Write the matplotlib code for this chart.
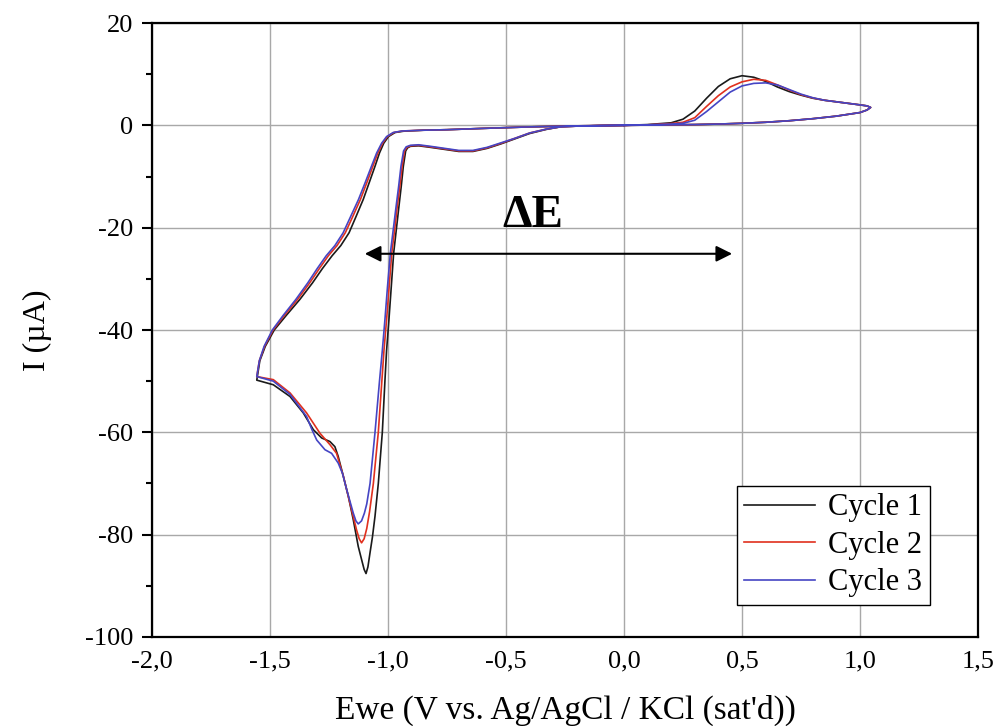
import matplotlib
matplotlib.use("Agg")
import matplotlib.pyplot as plt
from matplotlib.ticker import MultipleLocator

plt.rcParams['font.family'] = ['Liberation Serif', 'DejaVu Serif']
plt.rcParams['axes.unicode_minus'] = False

# cycle 1 (black): anodic peak -> vertex 1.045 V -> cathodic sweep -> vertex -1.556 V -> back to 0
c1_v = [0.00, 0.10, 0.20, 0.25, 0.30, 0.35, 0.40, 0.45, 0.50, 0.55, 0.60, 0.65, 0.70, 0.75, 0.80, 0.85, 0.90, 0.95, 1.00, 1.03, 1.045,
        1.03, 1.00, 0.90, 0.80, 0.70, 0.60, 0.50, 0.40, 0.30, 0.20, 0.10, 0.00,
        -0.10, -0.20, -0.27, -0.33, -0.40, -0.46, -0.52, -0.58, -0.64, -0.70, -0.76, -0.82, -0.87, -0.905, -0.917,
        -0.925, -0.935, -0.944, -0.954, -0.965, -0.976, -0.986, -0.996, -1.006, -1.013, -1.024, -1.041, -1.055, -1.066, -1.076, -1.085, -1.093,
        -1.101, -1.110, -1.126, -1.147, -1.168, -1.189, -1.211, -1.225, -1.246, -1.281, -1.316, -1.359, -1.415, -1.486, -1.556,
        -1.543, -1.520, -1.482, -1.432, -1.373, -1.320, -1.278, -1.237, -1.200, -1.165, -1.137, -1.105, -1.078, -1.055, -1.036, -1.018, -0.998, -0.970, -0.935,
        -0.85, -0.75, -0.60, -0.50, -0.40, -0.30, -0.20, -0.10, 0.00]
c1_i = [0.0, 0.15, 0.5, 1.2, 2.8, 5.3, 7.6, 9.1, 9.7, 9.4, 8.6, 7.5, 6.6, 5.9, 5.3, 4.9, 4.6, 4.3, 4.0, 3.8, 3.5,
        3.0, 2.5, 1.8, 1.3, 0.9, 0.6, 0.4, 0.25, 0.15, 0.1, 0.05, 0.0,
        -0.05, -0.15, -0.3, -0.8, -1.6, -2.6, -3.6, -4.5, -5.1, -5.1, -4.7, -4.3, -4.0, -4.1, -4.4,
        -5.0, -8.0, -12.0, -16.0, -20.5, -25.0, -31.5, -38.0, -44.0, -50.0, -60.0, -70.0, -76.4, -80.5, -83.5, -86.3, -87.6,
        -86.8, -85.2, -82.3, -77.1, -72.5, -68.6, -64.7, -62.8, -61.8, -61.1, -59.5, -56.2, -53.0, -50.7, -49.8,
        -46.0, -43.2, -40.0, -37.2, -34.0, -30.8, -28.0, -25.5, -23.5, -21.0, -18.0, -14.5, -11.0, -8.0, -5.4, -3.5, -2.2, -1.4, -1.15,
        -0.95, -0.85, -0.6, -0.45, -0.3, -0.2, -0.1, -0.05, 0.0]

# cycle 2 (red)
c2_v = [0.00, 0.10, 0.20, 0.25, 0.30, 0.35, 0.40, 0.45, 0.50, 0.55, 0.60, 0.65, 0.70, 0.75, 0.80, 0.85, 0.90, 0.95, 1.00, 1.03, 1.045,
        1.03, 1.00, 0.90, 0.80, 0.70, 0.60, 0.50, 0.40, 0.30, 0.20, 0.10, 0.00,
        -0.10, -0.20, -0.27, -0.33, -0.40, -0.46, -0.52, -0.58, -0.64, -0.70, -0.76, -0.82, -0.87, -0.905, -0.920,
        -0.930, -0.940, -0.950, -0.961, -0.972, -0.984, -0.995, -1.006, -1.017, -1.026, -1.041, -1.062, -1.078, -1.090, -1.101, -1.112,
        -1.122, -1.133, -1.147, -1.161, -1.189, -1.218, -1.246, -1.288, -1.345, -1.415, -1.486, -1.556,
        -1.545, -1.523, -1.487, -1.440, -1.383, -1.332, -1.291, -1.253, -1.216, -1.181, -1.151, -1.117, -1.088, -1.064, -1.043, -1.023, -1.003, -0.975, -0.938,
        -0.85, -0.75, -0.60, -0.50, -0.40, -0.30, -0.20, -0.10, 0.00]
c2_i = [0.0, 0.1, 0.35, 0.6, 1.5, 3.7, 5.8, 7.5, 8.5, 9.0, 8.8, 7.9, 6.9, 6.0, 5.35, 4.9, 4.6, 4.3, 4.0, 3.8, 3.5,
        3.0, 2.5, 1.8, 1.3, 0.9, 0.6, 0.4, 0.25, 0.15, 0.1, 0.05, 0.0,
        -0.05, -0.15, -0.3, -0.75, -1.5, -2.5, -3.5, -4.4, -5.0, -5.0, -4.6, -4.2, -3.9, -4.0, -4.3,
        -5.0, -8.0, -12.0, -16.0, -20.5, -25.0, -31.5, -38.0, -44.0, -50.0, -60.0, -70.0, -75.5, -78.8, -80.8, -81.6,
        -80.8, -79.1, -76.5, -73.9, -68.6, -64.1, -62.4, -60.2, -56.2, -52.3, -49.7, -49.1,
        -46.0, -43.2, -40.0, -37.2, -34.0, -30.8, -28.0, -25.5, -23.5, -21.0, -18.0, -14.5, -11.0, -8.0, -5.4, -3.5, -2.2, -1.4, -1.1,
        -0.95, -0.85, -0.6, -0.45, -0.3, -0.2, -0.1, -0.05, 0.0]

# cycle 3 (blue)
c3_v = [0.00, 0.10, 0.20, 0.25, 0.30, 0.35, 0.40, 0.45, 0.50, 0.55, 0.60, 0.65, 0.70, 0.75, 0.80, 0.85, 0.90, 0.95, 1.00, 1.03, 1.045,
        1.03, 1.00, 0.90, 0.80, 0.70, 0.60, 0.50, 0.40, 0.30, 0.20, 0.10, 0.00,
        -0.10, -0.20, -0.27, -0.33, -0.40, -0.46, -0.52, -0.58, -0.64, -0.70, -0.76, -0.82, -0.87, -0.905, -0.923,
        -0.934, -0.945, -0.955, -0.966, -0.978, -0.990, -1.002, -1.013, -1.024, -1.036, -1.055, -1.076, -1.090, -1.100, -1.112, -1.126,
        -1.136, -1.147, -1.161, -1.175, -1.193, -1.211, -1.239, -1.267, -1.302, -1.322, -1.345, -1.415, -1.486, -1.556,
        -1.545, -1.525, -1.490, -1.445, -1.390, -1.340, -1.300, -1.262, -1.225, -1.190, -1.160, -1.125, -1.095, -1.070, -1.048, -1.027, -1.006, -0.978, -0.940,
        -0.85, -0.75, -0.60, -0.50, -0.40, -0.30, -0.20, -0.10, 0.00]
c3_i = [0.0, 0.1, 0.25, 0.4, 1.0, 2.7, 4.6, 6.5, 7.7, 8.2, 8.3, 7.9, 7.0, 6.1, 5.4, 4.9, 4.6, 4.3, 4.0, 3.8, 3.5,
        3.0, 2.5, 1.8, 1.3, 0.9, 0.6, 0.4, 0.25, 0.15, 0.1, 0.05, 0.0,
        -0.05, -0.15, -0.3, -0.75, -1.5, -2.5, -3.4, -4.3, -4.9, -4.9, -4.5, -4.1, -3.8, -3.9, -4.2,
        -5.0, -8.0, -12.0, -16.0, -20.5, -25.0, -31.5, -38.0, -44.0, -50.0, -60.0, -70.0, -74.0, -75.8, -77.3, -77.9,
        -77.3, -75.8, -73.5, -71.2, -68.0, -66.0, -64.1, -63.4, -61.5, -59.5, -56.9, -52.6, -50.0, -49.1,
        -46.0, -43.2, -40.0, -37.2, -34.0, -30.8, -28.0, -25.5, -23.5, -21.0, -18.0, -14.5, -11.0, -8.0, -5.4, -3.5, -2.2, -1.4, -1.1,
        -0.95, -0.85, -0.6, -0.45, -0.3, -0.2, -0.1, -0.05, 0.0]

labels = ['Cycle 1', 'Cycle 2', 'Cycle 3']
colors = ['#1a1a1a', '#e0301e', '#4545c4']

x_ticks = [-2.0, -1.5, -1.0, -0.5, 0.0, 0.5, 1.0, 1.5]
x_ticklabels = ['-2,0', '-1,5', '-1,0', '-0,5', '0,0', '0,5', '1,0', '1,5']
y_ticks = [20, 0, -20, -40, -60, -80, -100]

fig = plt.figure(figsize=(9.96, 7.26), dpi=100)
ax = fig.add_axes([0.1526, 0.1226, 0.8293, 0.8457])

for v, i, lab, col in zip([c1_v, c2_v, c3_v], [c1_i, c2_i, c3_i], labels, colors):
    ax.plot(v, i, color=col, lw=1.2, label=lab)

ax.set_xlim(-2.0, 1.5)
ax.set_ylim(-100, 20)
ax.set_xticks(x_ticks)
ax.set_xticklabels(x_ticklabels)
ax.set_yticks(y_ticks)
ax.set_yticklabels([str(t) for t in y_ticks])
ax.yaxis.set_minor_locator(MultipleLocator(10))
ax.grid(True, which='major', color='#a8a8a8', lw=1.0)
ax.set_axisbelow(True)

ax.tick_params(axis='x', length=0, pad=10, labelsize=19)
ax.tick_params(axis='y', which='major', direction='out', length=7.5, width=1.5, pad=6, labelsize=19)
ax.tick_params(axis='y', which='minor', direction='out', length=4, width=1.5)
for s in ax.spines.values():
    s.set_linewidth(1.6)

ax.set_xlabel("Ewe (V vs. Ag/AgCl / KCl (sat'd))", fontsize=24, labelpad=16)
ax.set_ylabel("I (\u00b5A)", fontsize=23, labelpad=24)

# ΔE arrow between reduction peak and oxidation peak
ax.annotate('', xy=(-1.11, -25.1), xytext=(0.47, -25.1),
            arrowprops=dict(arrowstyle='<|-|>', color='black', lw=1.5, mutation_scale=24))
ax.text(-0.386, -17.8, '\u0394E', fontsize=34, fontweight='bold', ha='center', va='center')

leg = ax.legend(loc='lower right', bbox_to_anchor=(0.942, 0.052), fontsize=22, handlelength=2.3,
                fancybox=False, framealpha=1, edgecolor='black', borderpad=0.25,
                labelspacing=0.28, handletextpad=0.45, borderaxespad=0)
leg.get_frame().set_linewidth(1.0)

fig.savefig('out.png', dpi=100)
